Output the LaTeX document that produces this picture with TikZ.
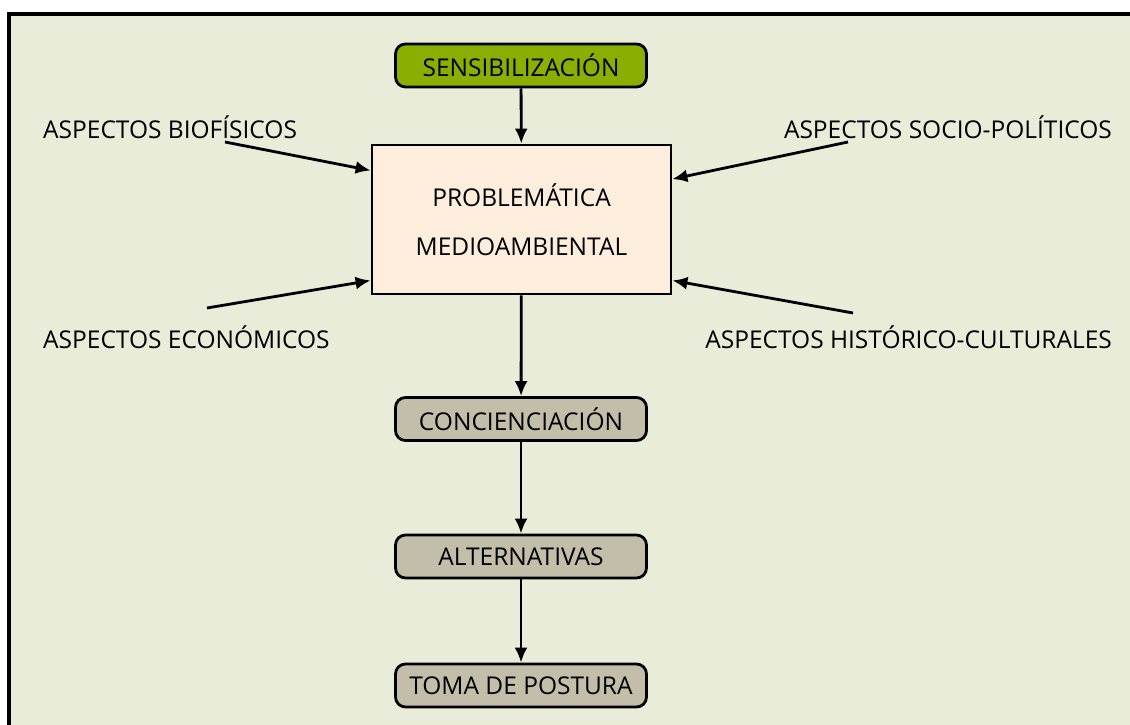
\documentclass[tikz,border=0pt]{standalone}
\usepackage{fontspec}
\setmainfont{Open Sans}
\usetikzlibrary{arrows.meta}
\definecolor{fondo}{HTML}{E9ECD8}
\definecolor{verde}{HTML}{8AAF00}
\definecolor{gris}{HTML}{C3BEA9}
\definecolor{melocoton}{HTML}{FDEDDC}
\newcommand*{\Letra}{\fontsize{24.5}{28}\selectfont}

\begin{document}
\begin{tikzpicture}[x=1pt,y=-1pt]
\tikzstyle{etapa}=[draw=black,line width=2.8pt,rounded corners=10pt,minimum width=251pt,minimum height=43pt,inner sep=0pt,font=\Letra]
\tikzstyle{aspecto}=[inner sep=0pt,font=\Letra]
\tikzstyle{flecha}=[line width=2.8pt,-{Latex[length=15pt,width=13pt]}]

\useasboundingbox (0,0) rectangle (1130,725);
\fill[fondo] (9,14) rectangle (1130,725);
\draw[line width=3.5pt] (1130,14) -- (9,14) -- (9,725);

\node at (521,65.5) [etapa,fill=verde] (sens) {SENSIBILIZACIÓN};

\node at (521.5,219.5) [draw=black,line width=2.8pt,fill=melocoton,minimum width=299pt,minimum height=149pt,align=center,font=\fontsize{24.5}{49}\selectfont] (prob) {PROBLEMÁTICA\\MEDIOAMBIENTAL};

\node at (521,419) [etapa,fill=gris] (conc) {CONCIENCIACIÓN};
\node at (521,556.5) [etapa,fill=gris] (alt) {ALTERNATIVAS};
\node at (521,685.5) [etapa,fill=gris] (toma) {TOMA DE POSTURA};

\node at (43,127) [aspecto,anchor=west] (bio) {ASPECTOS BIOFÍSICOS};
\node at (43,337) [aspecto,anchor=west] (eco) {ASPECTOS ECONÓMICOS};
\node at (1112,127) [aspecto,anchor=east] (soc) {ASPECTOS SOCIO-POLÍTICOS};
\node at (1112,337) [aspecto,anchor=east] (his) {ASPECTOS HISTÓRICO-CULTURALES};

\coordinate (bio_c) at (225,142);
\coordinate (eco_c) at (207,308);
\coordinate (soc_c) at (848,142);
\coordinate (his_c) at (853,313);

\draw[flecha] (sens) -- (prob);
\draw[flecha] (bio_c) -- (prob.162.7);
\draw[flecha] (eco_c) -- (prob.202);
\draw[flecha] (soc_c) -- (prob.15.4);
\draw[flecha] (his_c) -- (prob.338);

\draw[flecha] (prob) -- (conc);
\draw[flecha] (conc) -- (alt);
\draw[flecha] (alt) -- (toma);

\end{tikzpicture}
\end{document}
